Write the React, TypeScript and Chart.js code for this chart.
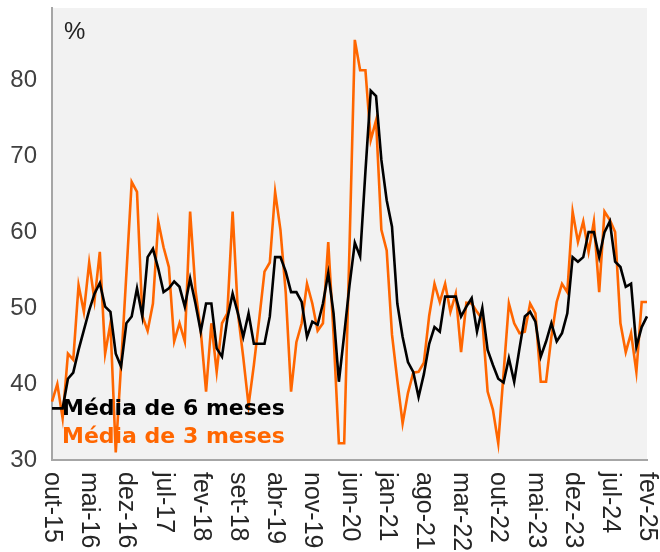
import React, { useEffect, useRef } from "react";
import { Chart, registerables } from "chart.js";

Chart.register(...registerables);

const MONTH_NAMES = ["jan", "fev", "mar", "abr", "mai", "jun", "jul", "ago", "set", "out", "nov", "dez"];
const START_YEAR = 2015;
const START_MONTH = 9; // out
const N_MONTHS = 113; // out-15 .. fev-25

const categories: string[] = [];
for (let i = 0; i < N_MONTHS; i++) {
  const m = (START_MONTH + i) % 12;
  const y = START_YEAR + Math.floor((START_MONTH + i) / 12);
  categories.push(`${MONTH_NAMES[m]}-${String(y).slice(2)}`);
}

const xTickLabels = [
  "out-15", "mai-16", "dez-16", "jul-17", "fev-18", "set-18", "abr-19", "nov-19", "jun-20",
  "jan-21", "ago-21", "mar-22", "out-22", "mai-23", "dez-23", "jul-24", "fev-25",
];

const yTicks = [30, 40, 50, 60, 70, 80];

const media6 = [
  36.8, 36.8, 36.8, 40.7, 41.5, 44.5, 47.1, 49.7, 51.9, 53.3,
  50.2, 49.5, 44.0, 42.3, 48.0, 48.9, 52.6, 48.9, 56.7, 57.8,
  55.2, 52.1, 52.6, 53.5, 52.8, 50.2, 53.9, 50.6, 46.9, 50.6,
  50.6, 44.7, 43.6, 48.6, 51.9, 49.3, 46.2, 49.3, 45.3, 45.3,
  45.3, 48.9, 56.7, 56.7, 54.8, 52.1, 52.1, 50.8, 46.2, 48.2,
  47.8, 50.6, 54.6, 49.3, 40.3, 46.5, 53.0, 58.6, 56.8, 68.0,
  78.6, 77.9, 69.5, 64.2, 60.7, 50.6, 46.2, 42.9, 41.6, 38.3,
  41.3, 45.3, 47.5, 46.9, 51.5, 51.5, 51.5, 48.9, 50.2, 51.3,
  46.9, 50.0, 44.5, 42.5, 40.7, 40.2, 43.4, 40.3, 44.7, 48.9,
  49.5, 48.2, 43.6, 45.6, 48.0, 45.6, 46.7, 49.3, 56.7, 56.1,
  56.7, 60.0, 60.0, 56.7, 60.0, 61.4, 56.1, 55.4, 52.8, 53.2,
  44.9, 47.5, 48.9,
];

const media3 = [
  37.7, 40.0, 35.5, 44.0, 43.2, 53.0, 49.5, 56.0, 51.0, 57.4,
  44.0, 48.0, 31.0, 42.5, 54.5, 66.6, 65.3, 49.0, 47.0, 50.6,
  61.4, 58.0, 55.4, 45.6, 48.0, 45.6, 62.7, 52.4, 47.0, 39.0,
  48.0, 41.6, 48.0, 49.3, 62.7, 49.3, 43.5, 37.2, 42.5, 48.5,
  54.8, 56.0, 65.3, 60.3, 52.0, 39.0, 45.5, 48.0, 53.2, 50.6,
  47.0, 48.0, 58.7, 46.5, 32.2, 32.2, 58.0, 85.3, 81.3, 81.3,
  72.1, 74.7, 60.3, 57.6, 46.5, 40.5, 34.8, 38.8, 41.5, 41.6,
  42.8, 49.0, 53.2, 50.8, 53.2, 49.5, 51.9, 44.2, 50.7, 50.6,
  49.5, 48.5, 39.0, 36.6, 32.2, 41.4, 50.6, 48.0, 46.7, 46.9,
  50.6, 49.3, 40.3, 40.3, 46.2, 50.8, 53.2, 52.1, 62.7, 58.7,
  61.4, 57.4, 61.4, 52.1, 62.7, 61.6, 60.0, 48.0, 44.2, 46.7,
  41.6, 50.8, 50.8,
];

const legendEntries = [
  { text: "Média de 6 meses", color: "#000000" },
  { text: "Média de 3 meses", color: "#ff6600" },
];

const unitLabel = "%";

const FONT = '"Liberation Sans", Arial, sans-serif';

const decorPlugin = {
  id: "decor",
  beforeDraw(chart: any) {
    const { ctx, chartArea } = chart;
    ctx.save();
    ctx.fillStyle = "#f2f2f2";
    ctx.fillRect(chartArea.left, chartArea.top, chartArea.right - chartArea.left, chartArea.bottom - chartArea.top);
    ctx.restore();
  },
  afterDraw(chart: any) {
    const { ctx, chartArea } = chart;
    const xScale = chart.scales.x;
    ctx.save();
    // x tick labels, rotated clockwise
    ctx.fillStyle = "#262626";
    ctx.font = `25px ${FONT}`;
    ctx.textAlign = "left";
    ctx.textBaseline = "middle";
    for (const lab of xTickLabels) {
      const idx = categories.indexOf(lab);
      if (idx < 0) continue;
      const x = xScale.getPixelForValue(idx);
      ctx.save();
      ctx.translate(x, chartArea.bottom + 12);
      ctx.rotate(Math.PI / 2);
      ctx.fillText(lab, 0, 0);
      ctx.restore();
    }
    // unit label
    ctx.fillStyle = "#222222";
    ctx.font = `24px ${FONT}`;
    ctx.textAlign = "left";
    ctx.textBaseline = "alphabetic";
    ctx.fillText(unitLabel, chartArea.left + 12, chartArea.top + 31);
    // legend text
    ctx.font = `bold 22px "DejaVu Sans", sans-serif`;
    legendEntries.forEach((e, i) => {
      ctx.fillStyle = e.color;
      ctx.fillText(e.text, chartArea.left + 10, chartArea.bottom - 45 + i * 28);
    });
    ctx.restore();
  },
};

export default function App() {
  const ref = useRef<HTMLCanvasElement | null>(null);
  useEffect(() => {
    if (!ref.current) return;
    const chart = new Chart(ref.current, {
      type: "line",
      data: {
        labels: categories,
        datasets: [
          {
            label: legendEntries[0].text,
            data: media6,
            borderColor: "#000000",
            borderWidth: 2.6,
            pointRadius: 0,
            tension: 0,
            fill: false,
          },
          {
            label: legendEntries[1].text,
            data: media3,
            borderColor: "#ff6600",
            borderWidth: 2.6,
            pointRadius: 0,
            tension: 0,
            fill: false,
          },
        ],
      },
      options: {
        responsive: false,
        animation: false,
        devicePixelRatio: 1,
        layout: { padding: { top: 8, right: 13, left: 0, bottom: 0 } },
        plugins: { legend: { display: false }, tooltip: { enabled: false } },
        scales: {
          x: {
            type: "category",
            offset: false,
            grid: { display: false, drawTicks: false },
            border: { display: true, color: "#a6a6a6", width: 2 },
            ticks: { display: false },
            afterFit(scale: any) {
              scale.height = 92;
              scale.paddingLeft = 0;
              scale.paddingRight = 0;
            },
          },
          y: {
            min: 30,
            max: 89.5,
            grid: { display: false, drawTicks: false },
            border: { display: true, color: "#a6a6a6", width: 2 },
            afterBuildTicks(scale: any) {
              scale.ticks = yTicks.map((v) => ({ value: v }));
            },
            ticks: {
              color: "#404040",
              padding: 15,
              font: { family: FONT, size: 24 },
            },
            afterFit(scale: any) {
              scale.width = 52;
              scale.paddingTop = 0;
              scale.paddingBottom = 0;
            },
          },
        },
      },
      plugins: [decorPlugin],
    });
    return () => chart.destroy();
  }, []);
  return (
    <div style={{ position: "fixed", left: 0, top: 0, width: 660, height: 552, background: "#ffffff" }}>
      <canvas ref={ref} width={660} height={552} style={{ display: "block" }} />
    </div>
  );
}
